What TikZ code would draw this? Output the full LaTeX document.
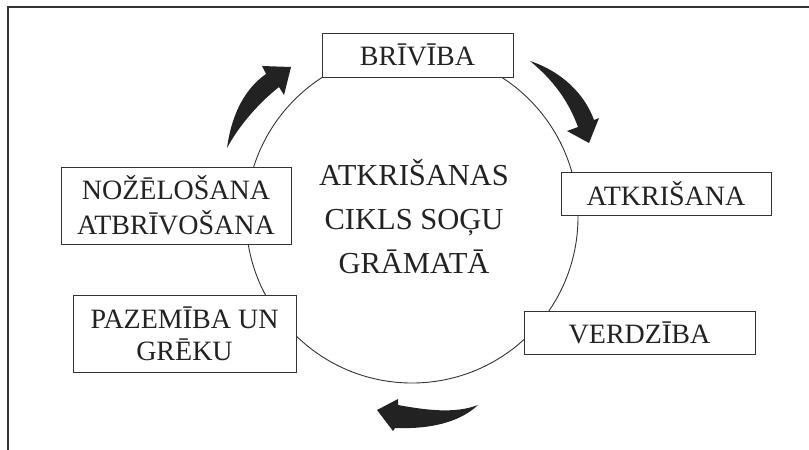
\documentclass[tikz,border=0pt]{standalone}
\usepackage{fontspec}
\setmainfont{Liberation Serif}
\definecolor{ink}{HTML}{222222}
\definecolor{linec}{HTML}{333333}
\begin{document}
\begin{tikzpicture}[x=1pt,y=-1pt,
  stagebox/.style={draw=linec,line width=1pt,fill=white,inner sep=0pt,align=center,
    text=ink,font=\fontsize{28}{33}\selectfont},
  bigarrow/.style={fill=ink,draw=none}]
\useasboundingbox (0,0) rectangle (809,450);
% frame
\coordinate (ftr) at (809,7);
\coordinate (ftl) at (8,7);
\coordinate (fbl) at (8,450);
\draw[linec,line width=1.2pt] (ftr) -- (ftl) -- (fbl);
% circle
\node[draw=linec,line width=0.9pt,circle,minimum size=332pt,inner sep=0pt] (ring) at (412,217) {};
% center text
\node[align=center,text=ink,font=\fontsize{30.5}{44}\selectfont] (title) at (414,217)
  {ATKRIŠANAS\\CIKLS SOĢU\\GRĀMATĀ};
% boxes
\node[stagebox,minimum width=191pt,minimum height=44pt] (brv) at (417.5,55) {BRĪVĪBA};
\node[stagebox,minimum width=210pt,minimum height=43pt] (atk) at (666,193.5) {ATKRIŠANA};
\node[stagebox,minimum width=231pt,minimum height=43pt] (ver) at (639.5,332.5) {VERDZĪBA};
\node[stagebox,minimum width=223pt,minimum height=77pt,font=\fontsize{28}{32}\selectfont] (paz) at (184.5,333.5) {PAZEMĪBA UN\\GRĒKU};
\node[stagebox,minimum width=230pt,minimum height=77pt,font=\fontsize{28}{35}\selectfont] (noz) at (176,205.5) {NOŽĒLOŠANA\\ATBRĪVOŠANA};
% arrows
\fill[bigarrow] (227,148) .. controls (232,112) and (246,88) .. (266,74) -- (262,66) -- (291,67) -- (284,95) -- (279,87) .. controls (260,102) and (240,124) .. (227,148) -- cycle;
\fill[bigarrow] (530,61) .. controls (563,72) and (585,95) .. (594,120) -- (599,118) -- (589,143) -- (567,131) -- (578,127) .. controls (568,100) and (553,80) .. (530,61) -- cycle;
\fill[bigarrow] (478,405) .. controls (455,414) and (425,410) .. (398,405) -- (398,399) -- (377,410) -- (393,431) -- (395,428) .. controls (420,429) and (456,426) .. (478,405) -- cycle;
\end{tikzpicture}
\end{document}
